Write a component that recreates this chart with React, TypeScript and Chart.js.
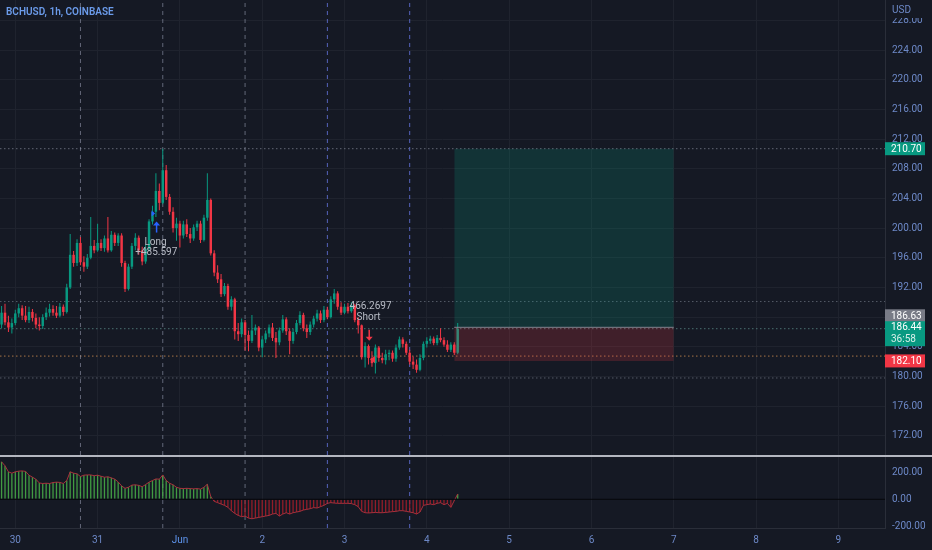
import React, { useEffect, useRef } from 'react';
import { Chart, registerables } from 'chart.js';

Chart.register(...registerables);

// ---------------- data ----------------
const START_HOUR = -4; // hours since 30 May 00:00, first visible candle
const opens = [
  187.0, 188.6, 187.3, 186.6, 187.2, 188.5, 189.2, 188.2, 187.6, 188.7, 187.9, 187.0, 186.8, 188.0, 188.6, 189.1, 188.6, 188.2, 189.4, 188.7,
  192.0, 196.4, 195.3, 198.0, 195.4, 194.8, 196.0, 197.6, 197.0, 198.0, 197.3, 198.6, 197.0, 199.1, 198.0, 199.0, 195.3, 191.8, 194.8, 197.6,
  198.7, 197.0, 195.5, 197.2, 200.9, 202.2, 205.0, 203.4, 207.8, 204.2, 202.2, 200.0, 200.6, 199.0, 200.5, 199.2, 198.6, 200.1, 200.6, 198.4,
  201.4, 203.8, 196.6, 194.0, 193.1, 191.1, 192.2, 189.4, 190.4, 186.1, 185.7, 187.3, 185.6, 184.8, 186.2, 186.6, 183.9, 185.0, 185.8, 186.6,
  185.2, 184.6, 186.2, 187.7, 186.1, 184.8, 186.0, 187.2, 188.3, 186.5, 186.0, 187.0, 187.8, 188.5, 187.6, 189.0, 188.0, 190.4, 191.2, 189.4,
  188.6, 189.4, 188.8, 189.6, 187.6, 186.9, 182.6, 184.1, 182.5, 181.8, 183.9, 182.5, 182.2, 183.0, 183.2, 182.4, 183.9, 185.0, 184.4, 183.2,
  182.0, 181.6, 180.9, 182.5, 184.4, 184.8, 185.1, 184.5, 185.2, 184.9, 184.3, 183.6, 184.3, 183.2,
];
const highs = [
  189.5, 189.8, 188.2, 187.8, 189.0, 189.8, 189.6, 189.5, 189.4, 189.1, 188.5, 188.0, 188.4, 189.3, 189.8, 189.6, 189.5, 189.9, 189.7, 192.5,
  199.2, 196.9, 198.5, 198.8, 196.2, 196.5, 201.5, 198.4, 200.6, 198.5, 199.0, 201.5, 199.6, 199.4, 199.3, 199.3, 195.6, 195.2, 198.0, 199.3,
  199.0, 197.5, 197.8, 201.2, 203.0, 207.4, 206.0, 210.7, 208.5, 204.6, 202.8, 201.4, 201.0, 201.0, 201.2, 200.0, 200.5, 201.0, 201.0, 201.8,
  207.4, 204.0, 197.0, 195.0, 193.8, 192.6, 192.5, 190.8, 190.6, 187.2, 187.8, 187.6, 186.2, 188.3, 187.0, 186.8, 185.5, 186.2, 187.0, 187.2,
  186.0, 186.6, 188.3, 188.0, 186.5, 186.4, 187.6, 188.8, 188.6, 187.0, 187.4, 188.2, 189.0, 188.9, 189.5, 189.4, 190.8, 191.8, 191.5, 190.0,
  189.8, 189.9, 190.0, 189.8, 188.0, 187.0, 184.6, 184.3, 183.4, 184.3, 184.1, 183.2, 183.6, 183.6, 183.5, 184.3, 185.4, 185.3, 184.7, 183.6,
  182.7, 182.3, 183.0, 184.7, 185.3, 185.5, 185.4, 185.6, 186.5, 185.3, 184.9, 184.6, 184.6, 187.2,
];
const lows = [
  186.5, 186.9, 186.0, 185.8, 186.9, 188.0, 187.6, 187.3, 187.2, 187.4, 186.5, 186.2, 186.4, 187.6, 188.1, 188.2, 187.9, 188.0, 188.2, 188.5,
  191.8, 194.8, 194.9, 195.0, 194.1, 194.5, 195.8, 196.6, 196.8, 196.9, 196.8, 196.7, 196.8, 197.6, 197.6, 194.8, 191.4, 191.6, 194.5, 197.0,
  196.4, 195.0, 195.2, 196.9, 200.5, 201.5, 202.4, 203.2, 203.8, 201.8, 199.4, 198.3, 197.4, 198.6, 198.8, 198.0, 198.3, 199.6, 198.0, 198.2,
  201.0, 196.3, 193.5, 192.6, 190.7, 190.8, 189.0, 188.9, 185.0, 184.8, 185.3, 183.5, 183.4, 184.5, 185.6, 183.4, 182.6, 184.5, 185.3, 184.8,
  182.5, 184.2, 185.9, 185.6, 183.0, 184.4, 185.7, 186.9, 186.1, 185.2, 185.6, 186.6, 187.4, 187.2, 187.3, 187.7, 187.8, 189.8, 189.0, 188.3,
  188.4, 188.5, 188.6, 187.3, 185.8, 182.3, 181.2, 181.6, 181.3, 180.4, 182.0, 181.8, 181.6, 182.2, 182.0, 182.0, 183.6, 183.9, 182.9, 181.6,
  181.0, 180.5, 180.7, 182.2, 183.9, 184.4, 184.2, 184.2, 184.6, 184.0, 183.3, 183.3, 182.9, 183.0,
];
const closes = [
  188.6, 187.3, 186.6, 187.2, 188.5, 189.2, 188.2, 187.6, 188.7, 187.9, 187.0, 186.8, 188.0, 188.6, 189.1, 188.6, 188.2, 189.4, 188.7, 192.0,
  196.4, 195.3, 198.0, 195.4, 194.8, 196.0, 197.6, 197.0, 198.0, 197.3, 198.6, 197.0, 199.1, 198.0, 199.0, 195.3, 191.8, 194.8, 197.6, 198.7,
  197.0, 195.5, 197.2, 200.9, 202.2, 205.0, 203.4, 207.8, 204.2, 202.2, 200.0, 200.6, 199.0, 200.5, 199.2, 198.6, 200.1, 200.6, 198.4, 201.4,
  203.8, 196.6, 194.0, 193.1, 191.1, 192.2, 189.4, 190.4, 186.1, 185.7, 187.3, 185.6, 184.8, 186.2, 186.6, 183.9, 185.0, 185.8, 186.6, 185.2,
  184.6, 186.2, 187.7, 186.1, 184.8, 186.0, 187.2, 188.3, 186.5, 186.0, 187.0, 187.8, 188.5, 187.6, 189.0, 188.0, 190.4, 191.2, 189.4, 188.6,
  189.4, 188.8, 189.6, 187.6, 186.9, 182.6, 184.1, 182.5, 181.8, 183.9, 182.5, 182.2, 183.0, 183.2, 182.4, 183.9, 185.0, 184.4, 183.2, 182.0,
  181.6, 180.9, 182.5, 184.4, 184.8, 185.1, 184.5, 185.2, 184.9, 184.3, 183.6, 184.3, 183.2, 186.44,
];
const oscValues = [
  280, 250, 205, 195, 205, 210, 212, 208, 180, 165, 150, 122, 118, 120, 118, 125, 128, 126, 118, 140,
  205, 195, 190, 170, 180, 182, 182, 176, 180, 172, 165, 168, 160, 150, 130, 100, 82, 90, 106, 108,
  104, 94, 110, 128, 140, 152, 150, 182, 140, 120, 108, 90, 82, 80, 82, 80, 78, 80, 76, 90,
  112, 20, -15, -25, -35, -45, -60, -85, -105, -120, -130, -125, -140, -145, -140, -135, -130, -125, -120, -110,
  -105, -125, -110, -100, -110, -100, -95, -90, -80, -75, -70, -62, -65, -55, -45, -30, -25, -28, -30, -30,
  -30, -30, -32, -40, -55, -90, -100, -102, -100, -98, -100, -100, -98, -95, -92, -90, -85, -85, -90, -95,
  -100, -110, -95, -45, -40, -35, -40, -30, -25, -40, -30, -60, -10, 40,
];

const dayTicks = [0, 24, 48, 72, 96, 120, 144, 168, 192, 216, 240];
const dayLabels = ['30', '31', 'Jun', '2', '3', '4', '5', '6', '7', '8', '9'];
const priceTicks = [172, 176, 180, 184, 188, 192, 196, 200, 204, 208, 212, 216, 220, 224, 228];
const oscTicks = [-200, 0, 200];
const sessionBreaks = [19, 43, 67, 91, 115];
const levelLines = [210.7, 190.1, 182.75, 179.8];
const levelColors = ['rgba(150,155,170,0.6)', 'rgba(150,155,170,0.5)', 'rgba(205,140,80,0.8)', 'rgba(150,155,170,0.5)'];
const lastPrice = 186.44;
const countdown = '36:58';
const positionStart = 128;
const positionEnd = 192;
const targetPrice = 210.7;
const entryPrice = 186.63;
const stopPrice = 182.1;
const longLabel = { hour: 40.9, price: 198.0, text: 'Long', pnlHour: 41.1, pnlPrice: 196.7, pnl: '+485.597', arrowHour: 41.2, arrowPrice: 199.4 };
const shortLabel = { hour: 103.0, price: 188.0, text: 'Short', pnlHour: 103.6, pnlPrice: 189.4, pnl: '466.2697', arrowHour: 103.2, arrowPrice: 186.3, exitHour: 104.0, exitPrice: 182.3 };

// ---------------- layout / style ----------------
const W = 932;
const MAIN_H = 457;
const OSC_H = 93;
const AXIS_W = 47;
const X_MIN = -4.46;
const X_MAX = 253.6;
const PRICE_MIN = 169.42;
const PRICE_MAX = 230.74;
const OSC_MIN = -214.2;
const OSC_MAX = 315.7;
const BG = '#151924';
const UP = '#089981';
const DOWN = '#f23645';
const TICK = '#6d89c8';
const GRID = '#1f232e';
const FONT = 'Roboto, "Noto Sans", sans-serif';

const hours = opens.map((_, i) => START_HOUR + i);

const mainOverlay = {
  id: 'mainOverlay',
  afterDraw(chart: any) {
    const ctx = chart.ctx;
    const xs = chart.scales.x;
    const ys = chart.scales.y;
    ctx.save();
    // title
    ctx.font = `600 10px ${FONT}`;
    ctx.fillStyle = '#6b9bea';
    ctx.textBaseline = 'middle';
    ctx.textAlign = 'left';
    ctx.fillText('BCHUSD, 1h, COINBASE', 6, 12);

    // long marker
    const lx = xs.getPixelForValue(longLabel.arrowHour);
    const ly = ys.getPixelForValue(longLabel.arrowPrice);
    ctx.fillStyle = '#2962ff';
    ctx.strokeStyle = '#2962ff';
    ctx.lineWidth = 1.5;
    ctx.beginPath();
    ctx.moveTo(lx, ly);
    ctx.lineTo(lx, ly - 9);
    ctx.stroke();
    ctx.beginPath();
    ctx.moveTo(lx - 3.5, ly - 7);
    ctx.lineTo(lx, ly - 11);
    ctx.lineTo(lx + 3.5, ly - 7);
    ctx.closePath();
    ctx.fill();
    ctx.beginPath();
    ctx.moveTo(lx - 5, ly - 22);
    ctx.lineTo(lx - 1.5, ly - 19);
    ctx.lineTo(lx - 5, ly - 16);
    ctx.closePath();
    ctx.fill();

    ctx.font = `10px ${FONT}`;
    ctx.fillStyle = '#b8bcc6';
    ctx.textAlign = 'center';
    ctx.fillText(longLabel.text, xs.getPixelForValue(longLabel.hour), ys.getPixelForValue(longLabel.price));
    ctx.fillText(longLabel.pnl, xs.getPixelForValue(longLabel.pnlHour), ys.getPixelForValue(longLabel.pnlPrice));

    // short marker
    ctx.fillText(shortLabel.pnl, xs.getPixelForValue(shortLabel.pnlHour), ys.getPixelForValue(shortLabel.pnlPrice));
    ctx.fillText(shortLabel.text, xs.getPixelForValue(shortLabel.hour), ys.getPixelForValue(shortLabel.price));
    const sx = xs.getPixelForValue(shortLabel.arrowHour);
    const sy = ys.getPixelForValue(shortLabel.arrowPrice);
    ctx.fillStyle = DOWN;
    ctx.strokeStyle = DOWN;
    ctx.beginPath();
    ctx.moveTo(sx, sy);
    ctx.lineTo(sx, sy + 9);
    ctx.stroke();
    ctx.beginPath();
    ctx.moveTo(sx - 3.5, sy + 7);
    ctx.lineTo(sx, sy + 11);
    ctx.lineTo(sx + 3.5, sy + 7);
    ctx.closePath();
    ctx.fill();
    const ex = xs.getPixelForValue(shortLabel.exitHour);
    const ey = ys.getPixelForValue(shortLabel.exitPrice);
    ctx.beginPath();
    ctx.moveTo(ex + 3, ey - 3.5);
    ctx.lineTo(ex - 2, ey);
    ctx.lineTo(ex + 3, ey + 3.5);
    ctx.closePath();
    ctx.fill();

    // price scale labels
    const right = chart.chartArea.right;
    const boxW = 40;
    ctx.textAlign = 'left';
    ctx.textBaseline = 'middle';
    ctx.font = `10px ${FONT}`;
    const drawLabel = (value: number, text: string, bg: string, shift: number) => {
      const y = ys.getPixelForValue(value) + shift;
      ctx.fillStyle = bg;
      ctx.fillRect(right, y - 6.5, boxW, 13);
      ctx.fillStyle = '#ffffff';
      ctx.fillText(text, right + 6, y + 0.5);
    };
    drawLabel(targetPrice, targetPrice.toFixed(2), UP, 0);
    drawLabel(stopPrice, stopPrice.toFixed(2), DOWN, 0);
    drawLabel(entryPrice, entryPrice.toFixed(2), '#787b86', -11.5);
    const cy = ys.getPixelForValue(lastPrice);
    ctx.fillStyle = UP;
    ctx.fillRect(right, cy - 7.5, boxW, 25);
    ctx.fillStyle = '#ffffff';
    ctx.fillText(lastPrice.toFixed(2), right + 6, cy - 1);
    ctx.fillStyle = '#d8f0ea';
    ctx.fillText(countdown, right + 6, cy + 10.5);

    // currency header
    ctx.fillStyle = BG;
    ctx.fillRect(right + 1, 0, W - right, 18);
    ctx.fillStyle = TICK;
    ctx.fillText('USD', right + 7, 10);

    // pane separator
    ctx.fillStyle = '#b4b7c0';
    ctx.fillRect(0, MAIN_H - 2, W, 2);
    ctx.restore();
  },
};

export default function App() {
  const mainRef = useRef<HTMLCanvasElement | null>(null);
  const oscRef = useRef<HTMLCanvasElement | null>(null);

  useEffect(() => {
    if (!mainRef.current || !oscRef.current) return;
    const candleColors = opens.map((o, i) => (closes[i] >= o ? UP : DOWN));

    const xAxisBase = (showLabels: boolean): any => ({
      type: 'linear',
      min: X_MIN,
      max: X_MAX,
      offset: false,
      afterBuildTicks: (s: any) => {
        s.ticks = dayTicks.map((v) => ({ value: v }));
      },
      afterFit: (s: any) => {
        s.height = showLabels ? 22 : 0;
        s.paddingLeft = 0;
        s.paddingRight = 0;
      },
      grid: { color: GRID, drawTicks: false, offset: false },
      border: { display: showLabels, color: '#2a2e39' },
      ticks: {
        display: showLabels,
        padding: 6,
        maxRotation: 0,
        autoSkip: false,
        font: { family: FONT, size: 10 },
        color: (c: any) => (c.tick && c.tick.value === 48 ? '#5e95ee' : TICK),
        callback: (v: any) => dayLabels[dayTicks.indexOf(v)] ?? '',
      },
    });

    const yAxisBase = (min: number, max: number, tickVals: number[], grid: boolean): any => ({
      type: 'linear',
      position: 'right',
      min,
      max,
      afterBuildTicks: (s: any) => {
        s.ticks = tickVals.map((v) => ({ value: v }));
      },
      afterFit: (s: any) => {
        s.width = AXIS_W;
        s.paddingTop = 0;
        s.paddingBottom = 0;
      },
      grid: { color: grid ? GRID : 'rgba(0,0,0,0)', drawTicks: false },
      border: { display: true, color: '#2a2e39' },
      ticks: {
        padding: 7,
        font: { family: FONT, size: 10 },
        color: TICK,
        callback: (v: any) => Number(v).toFixed(2),
      },
    });

    const flatLine = (y: number, color: string, dash: number[], order: number): any => ({
      type: 'line',
      data: [{ x: X_MIN, y }, { x: X_MAX, y }],
      borderColor: color,
      borderWidth: 1,
      borderDash: dash,
      pointRadius: 0,
      fill: false,
      order,
    });
    const sessionLines = (min: number, max: number): any[] =>
      sessionBreaks.map((h, i) => ({
        type: 'line',
        data: [{ x: h, y: min }, { x: h, y: max }],
        borderColor: i < 3 ? 'rgba(150,156,176,0.6)' : 'rgba(96,112,214,0.85)',
        borderWidth: 1,
        borderDash: [4, 4],
        pointRadius: 0,
        fill: false,
        order: 9,
      }));

    const mainChart = new Chart(mainRef.current, {
      type: 'bar',
      data: {
        datasets: [
          ...levelLines.map((v, i) => flatLine(v, levelColors[i], [1.5, 2.5], 10)),
          flatLine(lastPrice, 'rgba(110,170,165,0.6)', [1.5, 2.5], 10),
          ...sessionLines(PRICE_MIN, PRICE_MAX),
          {
            type: 'bar',
            data: hours.map((h, i) => ({ x: h, y: [lows[i], highs[i]] })),
            backgroundColor: candleColors,
            grouped: false,
            maxBarThickness: 1,
            order: 4,
          },
          {
            type: 'bar',
            data: hours.map((h, i) => ({ x: h, y: [opens[i], closes[i]] })),
            backgroundColor: candleColors,
            grouped: false,
            maxBarThickness: 2.6,
            minBarLength: 1,
            order: 3,
          },
          {
            type: 'line',
            data: [{ x: positionStart, y: targetPrice }, { x: positionEnd, y: targetPrice }],
            fill: { value: entryPrice },
            backgroundColor: 'rgba(8,153,129,0.2)',
            borderColor: 'rgba(0,0,0,0)',
            borderWidth: 0,
            pointRadius: 0,
            order: 2,
          },
          {
            type: 'line',
            data: [{ x: positionStart, y: stopPrice }, { x: positionEnd, y: stopPrice }],
            fill: { value: entryPrice },
            backgroundColor: 'rgba(242,54,69,0.2)',
            borderColor: 'rgba(0,0,0,0)',
            borderWidth: 0,
            pointRadius: 0,
            order: 2,
          },
          {
            type: 'line',
            data: [{ x: positionStart, y: entryPrice }, { x: positionEnd, y: entryPrice }],
            borderColor: 'rgba(140,143,153,0.9)',
            borderWidth: 1,
            pointRadius: 0,
            fill: false,
            order: 1,
          },
        ],
      } as any,
      options: {
        responsive: false,
        animation: false,
        devicePixelRatio: 1,
        events: [],
        layout: { padding: { top: 0, bottom: 2, left: 0, right: 0 }, autoPadding: false },
        plugins: { legend: { display: false }, tooltip: { enabled: false } },
        scales: {
          x: xAxisBase(false),
          y: yAxisBase(PRICE_MIN, PRICE_MAX, priceTicks, true),
        },
      } as any,
      plugins: [mainOverlay],
    });

    const oscChart = new Chart(oscRef.current, {
      type: 'bar',
      data: {
        datasets: [
          ...sessionLines(OSC_MIN, OSC_MAX),
          {
            type: 'bar',
            data: hours.map((h, i) => ({ x: h, y: oscValues[i] })),
            backgroundColor: oscValues.map((v) => (v >= 0 ? 'rgba(70,170,70,0.9)' : 'rgba(160,30,42,0.9)')),
            grouped: false,
            maxBarThickness: 1.3,
            order: 4,
          },
          {
            type: 'line',
            data: hours.map((h, i) => ({ x: h, y: oscValues[i] })),
            borderColor: '#a8303c',
            borderWidth: 1,
            pointRadius: 0,
            fill: false,
            order: 3,
          },
          flatLine(0, '#06070b', [], 2),
        ],
      } as any,
      options: {
        responsive: false,
        animation: false,
        devicePixelRatio: 1,
        events: [],
        layout: { padding: 0, autoPadding: false },
        plugins: { legend: { display: false }, tooltip: { enabled: false } },
        scales: {
          x: xAxisBase(true),
          y: yAxisBase(OSC_MIN, OSC_MAX, oscTicks, false),
        },
      } as any,
    });

    return () => {
      mainChart.destroy();
      oscChart.destroy();
    };
  }, []);

  return (
    <div style={{ position: 'fixed', left: 0, top: 0, width: W, height: MAIN_H + OSC_H, background: BG, overflow: 'hidden' }}>
      <canvas ref={mainRef} width={W} height={MAIN_H} style={{ position: 'absolute', left: 0, top: 0, width: W, height: MAIN_H }} />
      <canvas ref={oscRef} width={W} height={OSC_H} style={{ position: 'absolute', left: 0, top: MAIN_H, width: W, height: OSC_H }} />
    </div>
  );
}
